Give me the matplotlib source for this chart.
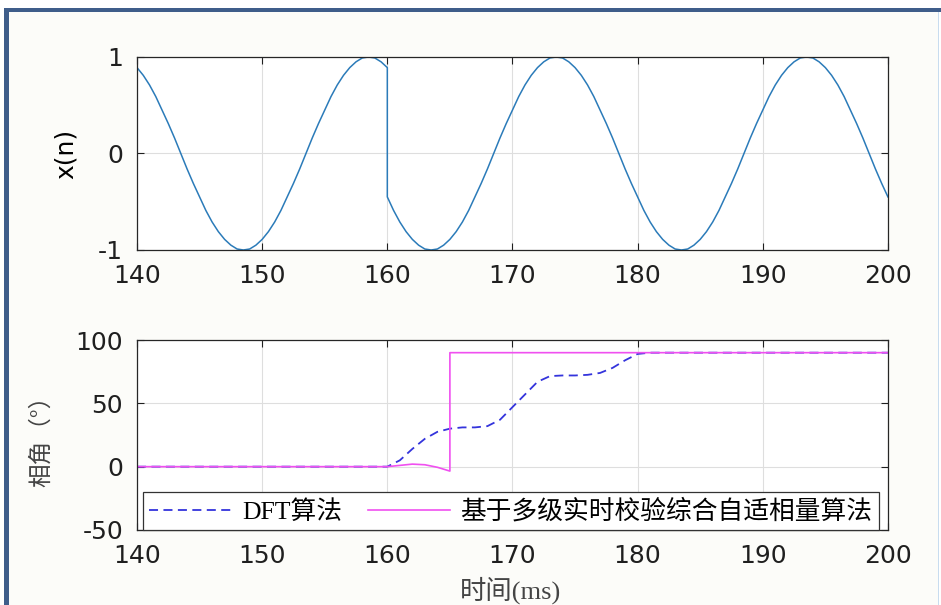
import matplotlib.pyplot as plt
from matplotlib.patches import Rectangle

plt.rcParams['axes.unicode_minus'] = False
plt.rcParams['font.family'] = ['DejaVu Sans', 'Noto Sans CJK SC']

# sampled signal, 0.5 ms steps, phase jump at 160 ms (two samples at 160)
t_sig = [140 + 0.5 * i for i in range(41)] + [160 + 0.5 * i for i in range(81)]
x_sig = [0.89, 0.81, 0.71, 0.59, 0.45, 0.31, 0.16, 0.0, -0.16, -0.31,
         -0.45, -0.59, -0.71, -0.81, -0.89, -0.95, -0.99, -1.0, -0.99, -0.95,
         -0.89, -0.81, -0.71, -0.59, -0.45, -0.31, -0.16, 0.0, 0.16, 0.31,
         0.45, 0.59, 0.71, 0.81, 0.89, 0.95, 0.99, 1.0, 0.99, 0.95, 0.89,
         # after the jump
         -0.45, -0.59, -0.71, -0.81, -0.89, -0.95, -0.99, -1.0, -0.99, -0.95,
         -0.89, -0.81, -0.71, -0.59, -0.45, -0.31, -0.16, 0.0, 0.16, 0.31,
         0.45, 0.59, 0.71, 0.81, 0.89, 0.95, 0.99, 1.0, 0.99, 0.95,
         0.89, 0.81, 0.71, 0.59, 0.45, 0.31, 0.16, 0.0, -0.16, -0.31,
         -0.45, -0.59, -0.71, -0.81, -0.89, -0.95, -0.99, -1.0, -0.99, -0.95,
         -0.89, -0.81, -0.71, -0.59, -0.45, -0.31, -0.16, 0.0, 0.16, 0.31,
         0.45, 0.59, 0.71, 0.81, 0.89, 0.95, 0.99, 1.0, 0.99, 0.95,
         0.89, 0.81, 0.71, 0.59, 0.45, 0.31, 0.16, 0.0, -0.16, -0.31, -0.45]

# phase estimate of the DFT method
t_dft = [140, 160, 161, 162, 163, 164, 165, 166, 167, 168, 169, 170, 171,
         172, 173, 174, 175, 176, 177, 178, 179, 180, 181, 200]
ph_dft = [0, 0, 5, 14, 22, 27.5, 30, 31, 31, 32, 37, 47, 57,
          67, 71.5, 72, 72, 72.5, 74, 78, 84, 89, 90, 90]

# phase estimate of the adaptive phasor method
t_new = [140, 160, 161, 162, 163, 164, 165, 165, 200]
ph_new = [0, 0, 1, 2, 1.5, -0.5, -3.5, 90, 90]

lbl_dft = 'DFT算法'
lbl_new = '基于多级实时校验综合自适相量算法'

fig = plt.figure(figsize=(9.41, 6.05), dpi=100, facecolor='white')

# outer frame
fig.patches.append(Rectangle((0.0069, -0.01), 0.99, 0.9935, transform=fig.transFigure,
                             facecolor='#fcfcf9', edgecolor='none', zorder=-2))
fig.patches.append(Rectangle((0.0043, -0.01), 0.0053, 0.9935, transform=fig.transFigure,
                             facecolor='#3f5d8a', edgecolor='none', zorder=-1))
fig.patches.append(Rectangle((0.0043, 0.9802), 0.996, 0.0066, transform=fig.transFigure,
                             facecolor='#3f5d8a', edgecolor='none', zorder=-1))
fig.patches.append(Rectangle((0.9965, -0.01), 0.0015, 0.99, transform=fig.transFigure,
                             facecolor='#c8dcef', edgecolor='none', zorder=-1))

ax1 = fig.add_axes([0.1456, 0.5868, 0.798, 0.319])
ax2 = fig.add_axes([0.1456, 0.124, 0.798, 0.314])

for ax in (ax1, ax2):
    ax.set_facecolor('white')
    ax.grid(True, color='#dedede', linewidth=0.8)
    ax.set_axisbelow(True)
    ax.tick_params(direction='in', length=5, width=0.8, top=True, right=True,
                   labelsize=18, pad=10, colors='#1f1f1f')
    for s in ax.spines.values():
        s.set_color('#262626')
        s.set_linewidth(0.9)
    ax.set_xlim(140, 200)
    ax.set_xticks(range(140, 201, 10))

ax1.plot(t_sig, x_sig, color='#2b7bb9', linewidth=1.1)
ax1.set_ylim(-1, 1)
ax1.set_yticks([-1, 0, 1])
ax1.set_ylabel('x(n)', fontsize=18)
ax1.yaxis.set_label_coords(-0.079, 0.5)

ax2.plot(t_dft, ph_dft, color='#3434dc', linewidth=1.3, linestyle=(0, (5, 3)), label=lbl_dft)
ax2.plot(t_new, ph_new, color='#f050f0', linewidth=1.2, label=lbl_new)
ax2.set_ylim(-50, 100)
ax2.set_yticks([-50, 0, 50, 100])
ax2.set_ylabel('相角（°）', fontsize=17, family=['Noto Sans CJK SC'], color='#444444')
ax2.yaxis.set_label_coords(-0.112, 0.5)
ax2.set_xlabel('时间(ms)', fontsize=19, family=['Liberation Serif', 'Noto Sans CJK SC'],
               color='#444444')
ax2.xaxis.set_label_coords(0.497, -0.245)

leg = ax2.legend(loc='lower left', bbox_to_anchor=(0.008, 0.0), borderaxespad=0,
                 ncol=2, fancybox=False, framealpha=1, edgecolor='#333333',
                 handlelength=3.2, columnspacing=1.0, handletextpad=0.4,
                 borderpad=0.25,
                 prop={'family': ['Liberation Serif', 'Noto Sans CJK SC'], 'size': 18.5})
leg.get_frame().set_linewidth(0.9)

fig.savefig('out.png', dpi=100, facecolor=fig.get_facecolor())
